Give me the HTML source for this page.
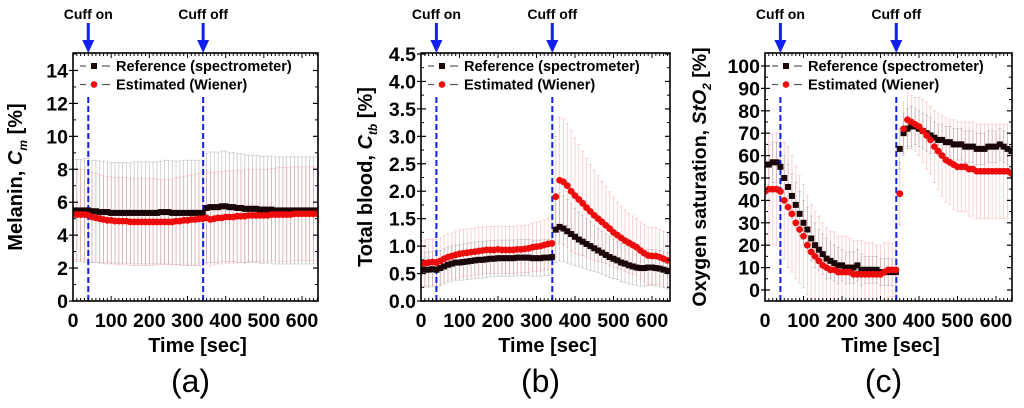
<!DOCTYPE html>
<html><head><meta charset="utf-8"><style>
html,body{margin:0;padding:0;background:#fff;}
svg{display:block;font-family:"Liberation Sans",Arial,sans-serif;}
</style></head><body>
<svg id="fig" width="1024" height="408" viewBox="0 0 1024 408" xmlns="http://www.w3.org/2000/svg"></svg>
<script>
// shared time axis (sec)
const times=[0,10,20,30,40,50,60,70,80,90,100,110,120,130,140,150,160,170,180,190,200,210,220,230,240,250,260,270,280,290,300,310,320,330,340,350,360,370,380,390,400,410,420,430,440,450,460,470,480,490,500,510,520,530,540,550,560,570,580,590,600,610,620,630,640];
const xTicks=[0,100,200,300,400,500,600];
const cuffTimes=[40,341];
// panel a: melanin
const aRef=[5.5,5.5,5.5,5.5,5.5,5.45,5.45,5.4,5.4,5.4,5.35,5.35,5.35,5.35,5.35,5.35,5.35,5.35,5.35,5.35,5.35,5.35,5.35,5.4,5.4,5.4,5.35,5.35,5.35,5.35,5.35,5.35,5.35,5.35,5.35,5.65,5.7,5.7,5.7,5.75,5.75,5.7,5.7,5.65,5.65,5.6,5.6,5.6,5.6,5.55,5.55,5.55,5.55,5.5,5.5,5.5,5.5,5.5,5.5,5.5,5.5,5.5,5.5,5.5,5.5];
const aRefSd=[3.1,3.1,3.1,3.15,3.15,3.1,3.1,3.1,3.1,3.05,3.05,3.05,3.05,3.05,3.05,3.05,3.1,3.1,3.1,3.1,3.1,3.1,3.1,3.1,3.15,3.15,3.15,3.15,3.15,3.2,3.2,3.2,3.2,3.2,3.2,3.3,3.35,3.35,3.35,3.35,3.35,3.3,3.3,3.3,3.3,3.3,3.25,3.25,3.25,3.25,3.25,3.25,3.25,3.25,3.25,3.25,3.25,3.25,3.25,3.25,3.25,3.25,3.25,3.25,3.25];
const aEst=[5.25,5.25,5.25,5.25,5.2,5.1,5.05,5.0,4.95,4.9,4.9,4.85,4.85,4.85,4.85,4.8,4.8,4.8,4.8,4.8,4.8,4.8,4.8,4.8,4.8,4.8,4.8,4.85,4.85,4.9,4.9,4.95,4.95,5.0,5.0,5.05,4.95,5.0,5.05,5.05,5.1,5.1,5.1,5.15,5.15,5.15,5.2,5.2,5.2,5.2,5.2,5.2,5.25,5.25,5.25,5.25,5.25,5.25,5.3,5.3,5.3,5.3,5.3,5.3,5.3];
const aEstSd=[2.75,2.75,2.75,2.75,2.75,2.7,2.7,2.65,2.65,2.65,2.65,2.65,2.65,2.65,2.65,2.65,2.65,2.65,2.65,2.65,2.65,2.65,2.6,2.6,2.6,2.6,2.6,2.65,2.65,2.65,2.7,2.7,2.75,2.75,2.8,2.8,2.85,2.8,2.8,2.8,2.8,2.8,2.8,2.8,2.8,2.8,2.8,2.8,2.8,2.8,2.8,2.8,2.8,2.8,2.85,2.85,2.85,2.85,2.85,2.85,2.85,2.85,2.85,2.85,2.85];
const aYTicks=[0,2,4,6,8,10,12,14];
// panel b: total blood
const bRef=[0.57,0.57,0.57,0.58,0.57,0.6,0.63,0.66,0.68,0.7,0.7,0.71,0.72,0.73,0.74,0.75,0.75,0.76,0.77,0.77,0.78,0.78,0.78,0.78,0.78,0.79,0.79,0.79,0.79,0.78,0.78,0.78,0.79,0.79,0.8,1.3,1.35,1.32,1.27,1.22,1.17,1.12,1.08,1.04,1.0,0.96,0.92,0.88,0.84,0.8,0.77,0.74,0.7,0.68,0.65,0.63,0.61,0.6,0.6,0.61,0.61,0.6,0.59,0.57,0.55];
const bRefSd=[0.32,0.32,0.32,0.32,0.32,0.32,0.32,0.32,0.32,0.32,0.32,0.33,0.33,0.33,0.33,0.33,0.33,0.33,0.33,0.33,0.33,0.33,0.33,0.33,0.33,0.33,0.33,0.33,0.33,0.33,0.33,0.33,0.33,0.33,0.33,0.6,0.62,0.6,0.58,0.55,0.52,0.5,0.48,0.46,0.44,0.42,0.4,0.39,0.38,0.37,0.36,0.35,0.35,0.34,0.34,0.33,0.33,0.33,0.33,0.33,0.33,0.33,0.33,0.33,0.33];
const bEst=[0.68,0.69,0.7,0.71,0.7,0.73,0.77,0.8,0.82,0.84,0.86,0.87,0.88,0.89,0.9,0.91,0.92,0.93,0.93,0.93,0.94,0.93,0.93,0.93,0.93,0.94,0.94,0.95,0.96,0.98,0.99,1.0,1.02,1.04,1.05,1.9,2.2,2.17,2.1,2.0,1.92,1.85,1.78,1.7,1.63,1.56,1.5,1.44,1.38,1.32,1.25,1.2,1.15,1.1,1.06,1.02,0.98,0.92,0.87,0.83,0.82,0.82,0.8,0.77,0.74];
const bEstSd=[0.42,0.42,0.42,0.42,0.42,0.42,0.42,0.42,0.42,0.42,0.43,0.43,0.43,0.43,0.43,0.43,0.43,0.43,0.43,0.43,0.43,0.43,0.43,0.43,0.43,0.43,0.43,0.43,0.44,0.44,0.45,0.45,0.46,0.47,0.48,1.1,1.15,1.15,1.13,1.1,1.05,1.0,0.95,0.9,0.86,0.82,0.78,0.74,0.7,0.67,0.64,0.6,0.58,0.56,0.54,0.53,0.52,0.52,0.52,0.52,0.52,0.52,0.5,0.5,0.5];
const bYTicks=[0,0.5,1,1.5,2,2.5,3,3.5,4,4.5];
const bYLabels=["0.0","0.5","1.0","1.5","2.0","2.5","3.0","3.5","4.0","4.5"];
// panel c: oxygen saturation
const cRef=[56,56,57,57,55,50,46,42,38,34,30,27,23,20,18,16,14,13,12,11,11,10,10,10,11,9,9,9,9,9,8,8,8,8,8,63,70,72,73,73,72,71,70,69,68,67,67,66,66,65,65,65,64,64,64,63,63,63,64,64,64,65,64,63,62];
const cRefSd=[9,9,9,9,9,10,10,10,10,10,10,10,10,10,9,9,9,8,8,8,7,7,7,7,7,7,6,6,6,6,6,6,6,6,6,9,9,9,9,8,8,8,8,8,7,7,7,7,7,7,7,7,7,7,7,7,7,7,7,7,7,7,7,7,7];
const cEst=[44,45,45,45,44,40,37,34,30,27,24,20,17,15,13,11,10,9,9,8,8,8,8,7,7,7,7,7,7,7,7,8,9,9,9,43,72,76,75,74,73,71,69,67,64,62,60,58,57,56,55,55,55,54,54,53,53,53,53,53,53,53,53,53,52];
const cEstSd=[25,25,25,25,26,26,27,26,25,24,23,22,21,20,20,19,18,17,17,16,16,16,15,15,15,15,14,14,14,13,13,13,12,12,12,14,12,12,12,12,13,14,15,15,16,17,18,19,19,20,20,20,20,21,21,21,21,21,21,21,21,21,21,21,21];
const cYTicks=[0,10,20,30,40,50,60,70,80,90,100];

const NS="http://www.w3.org/2000/svg";
const svg=document.getElementById('fig');
function el(tag,attrs,parent,txt){const e=document.createElementNS(NS,tag);for(const k in attrs)e.setAttribute(k,attrs[k]);if(txt!==undefined)e.textContent=txt;(parent||svg).appendChild(e);return e;}

function panel(cfg){
  const g=el('g',{});
  
  
  const L=cfg.x0,R=cfg.x1,T=53,B=301;
  const sx=t=>cfg.px0+(t)*(cfg.px600-cfg.px0)/600;
  const sy=v=>cfg.py0+(v-cfg.v0)*(cfg.py1-cfg.py0)/(cfg.v1-cfg.v0);
  const clip=el('clipPath',{id:'clip'+cfg.id},g);
  el('rect',{x:L,y:T,width:R-L,height:B-T},clip);
  const pg=el('g',{'clip-path':'url(#clip'+cfg.id+')'},g);
  function bars(vals,sd,color,nm){
    const bg=el('g',{stroke:color,'stroke-width':0.8},pg);
    
    
    times.forEach((t,i)=>{
      const x=sx(t),y1=sy(vals[i]+sd[i]),y2=sy(vals[i]-sd[i]);
      el('line',{x1:x,x2:x,y1:y1,y2:y2},bg);
      el('line',{x1:x-1.6,x2:x+1.6,y1:y1,y2:y1},bg);
      el('line',{x1:x-1.6,x2:x+1.6,y1:y2,y2:y2},bg);
    });
  }
  bars(cfg.ref,cfg.refSd,'rgba(120,120,120,0.4)','reference-error-bars');
  bars(cfg.est,cfg.estSd,'rgba(240,120,120,0.4)','estimated-error-bars');
  cuffTimes.forEach((t,i)=>{
    const ln=el('line',{x1:sx(t),x2:sx(t),y1:97,y2:B,stroke:'#1020f0','stroke-width':2,'stroke-dasharray':'6,3'},pg);
    
    
  });
  const rg=el('g',{fill:'#1a0606'},pg);
  
  
  times.forEach((t,i)=>{el('rect',{x:sx(t)-3,y:sy(cfg.ref[i])-3,width:6,height:6},rg);});
  const eg=el('g',{fill:'#ee0b0b'},pg);
  
  
  times.forEach((t,i)=>{el('circle',{cx:sx(t),cy:sy(cfg.est[i]),r:3.4},eg);});
  const fr=el('rect',{x:L,y:T,width:R-L,height:B-T,fill:'none',stroke:'#000','stroke-width':1.6},g);
  
  
  for(let t=0;sx(t)<=R;t+=10){const x=sx(t);const mj=t%100===0;
    el('line',{x1:x,x2:x,y1:B,y2:B-(mj?5:3),stroke:'#000','stroke-width':1},g);
    el('line',{x1:x,x2:x,y1:T,y2:T+(mj?5:3),stroke:'#000','stroke-width':1},g);}
  const xl=el('g',{'font-size':19.5,'font-weight':'bold','text-anchor':'middle'},g);
  
  
  xTicks.forEach(t=>{el('text',{x:sx(t),y:B+26},xl,String(t));});
  const yl=el('g',{'font-size':19.5,'font-weight':'bold','text-anchor':'end'},g);
  
  
  cfg.yTicks.forEach((v,i)=>{const y=sy(v);
    el('line',{x1:L,x2:L+5,y1:y,y2:y,stroke:'#000','stroke-width':1.2},g);
    el('line',{x1:R,x2:R-5,y1:y,y2:y,stroke:'#000','stroke-width':1.2},g);
    el('line',{x1:L-4,x2:L,y1:y,y2:y,stroke:'#000','stroke-width':1.2},g);
    el('text',{x:L-5,y:y+7},yl,cfg.yLabels?cfg.yLabels[i]:String(v));
    const mv=v+cfg.yStep/2; if(mv<=cfg.v1){const my=sy(mv);
      el('line',{x1:L,x2:L+3,y1:my,y2:my,stroke:'#000','stroke-width':1},g);
      el('line',{x1:R,x2:R-3,y1:my,y2:my,stroke:'#000','stroke-width':1},g);}
  });
  const xt=el('text',{x:(L+R)/2+2,y:352,'font-size':20,'font-weight':'bold','text-anchor':'middle'},g,'Time [sec]');
  
  
  const yt=el('text',{transform:`translate(${cfg.ytx},${(T+B)/2}) rotate(-90)`,'font-size':cfg.yfs,'font-weight':'bold','text-anchor':'middle'},g);
  
  
  yt.innerHTML=cfg.ytitle;
  const pl=el('text',{x:(L+R)/2-5,y:392,'font-size':32,'text-anchor':'middle'},g,cfg.label);
  
  
  ['Cuff on','Cuff off'].forEach((s,i)=>{const x=sx(cuffTimes[i]);
    const a=el('g',{},g);
    
    
    el('text',{x:x,y:19,'font-size':14,'font-weight':'bold','text-anchor':'middle'},a,s);
    el('rect',{x:x-1.5,y:23,width:3,height:18,fill:'#1020f0'},a);
    el('polygon',{points:`${x-6},40 ${x+6},40 ${x},53`,fill:'#1020f0'},a);
  });
  const lg=el('g',{'font-size':14.5,'font-weight':'bold'},g);
  
  
  [['Reference (spectrometer)','#1a0606','rect'],['Estimated (Wiener)','#ee0b0b','circle']].forEach((d,i)=>{
    const y=66+i*18.5, x=L+7;
    const e=el('g',{},lg);
    
    
    el('line',{x1:x,x2:x+6,y1:y,y2:y,stroke:'#555','stroke-width':1.2},e);
    el('line',{x1:x+22,x2:x+30,y1:y,y2:y,stroke:'#555','stroke-width':1.2},e);
    if(d[2]==='rect')el('rect',{x:x+11,y:y-3,width:6,height:6,fill:d[1]},e);
    else el('circle',{cx:x+14,cy:y,r:3.3,fill:d[1]},e);
    el('text',{x:x+36,y:y+5},e,d[0]);
  });
}
panel({id:'a',name:'panel-a-melanin',x0:73,x1:318,px0:73,px600:302,v0:0,v1:15,py0:301,py1:54,yTicks:aYTicks,yStep:2,ref:aRef,refSd:aRefSd,est:aEst,estSd:aEstSd,ytx:22,yfs:20,ytitle:'Melanin, <tspan font-style="italic">C</tspan><tspan font-style="italic" font-size="12" dy="5">m</tspan><tspan dy="-5"> [%]</tspan>',label:'(a)'});
panel({id:'b',name:'panel-b-total-blood',x0:421,x1:670,px0:421,px600:652,v0:0,v1:4.5,py0:301,py1:54,yTicks:bYTicks,yLabels:bYLabels,yStep:0.5,ref:bRef,refSd:bRefSd,est:bEst,estSd:bEstSd,ytx:372,yfs:20,ytitle:'Total blood, <tspan font-style="italic">C</tspan><tspan font-style="italic" font-size="12" dy="5">tb</tspan><tspan dy="-5"> [%]</tspan>',label:'(b)'});
panel({id:'c',name:'panel-c-oxygen-saturation',x0:765,x1:1012,px0:765,px600:996,v0:0,v1:100,py0:290,py1:66,yTicks:cYTicks,yStep:10,ref:cRef,refSd:cRefSd,est:cEst,estSd:cEstSd,ytx:706,yfs:19.5,ytitle:'Oxygen saturation, <tspan font-style="italic">StO</tspan><tspan font-style="italic" font-size="12" dy="5">2</tspan><tspan dy="-5"> [%]</tspan>',label:'(c)'});
</script>
</body></html>
